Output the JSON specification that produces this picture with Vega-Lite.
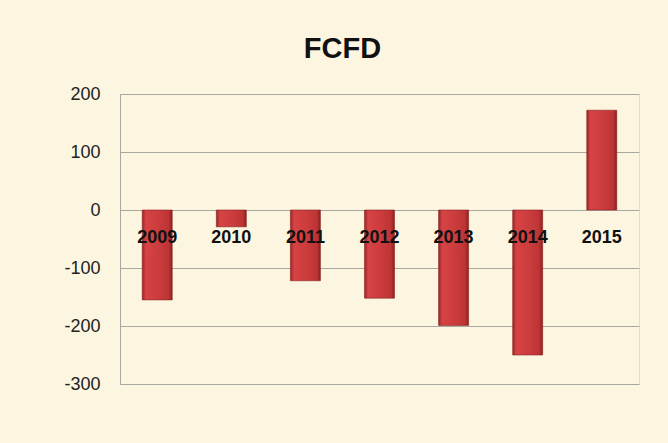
{
  "$schema": "https://vega.github.io/schema/vega-lite/v6.json",
  "autosize": "none",
  "width": 519,
  "height": 290,
  "padding": {"left": 120, "top": 94, "right": 29, "bottom": 59},
  "background": "#fcf6e1",
  "title": {
    "text": "FCFD",
    "font": "Liberation Sans",
    "fontSize": 29,
    "fontWeight": "bold",
    "color": "#111111",
    "anchor": "middle",
    "dx": -37,
    "baseline": "alphabetic",
    "offset": -2
  },
  "data": {
    "values": [
      {"year": "2009", "value": -155},
      {"year": "2010", "value": -29},
      {"year": "2011", "value": -122},
      {"year": "2012", "value": -152},
      {"year": "2013", "value": -199},
      {"year": "2014", "value": -250},
      {"year": "2015", "value": 172}
    ]
  },
  "encoding": {
    "x": {
      "field": "year",
      "type": "nominal",
      "sort": null,
      "scale": {"paddingInner": 0.595, "paddingOuter": 0.3},
      "axis": null
    }
  },
  "layer": [
    {
      "mark": {
        "type": "bar",
        "stroke": "#8a2222",
        "strokeWidth": 0.6,
        "fill": {
          "x1": 0, "y1": 0, "x2": 1, "y2": 0,
          "gradient": "linear",
          "stops": [
            {"offset": 0, "color": "#9a2526"},
            {"offset": 0.12, "color": "#d64344"},
            {"offset": 0.5, "color": "#cd3d3e"},
            {"offset": 0.88, "color": "#bd3435"},
            {"offset": 1, "color": "#8c2021"}
          ]
        }
      },
      "encoding": {
        "y": {
          "field": "value",
          "type": "quantitative",
          "scale": {"domain": [-300, 200], "nice": false},
          "axis": {
            "title": null,
            "values": [-300, -200, -100, 0, 100, 200],
            "labelExpr": "'' + datum.value",
            "grid": true,
            "gridColor": "#a8a8a0",
            "gridWidth": 1,
            "domain": true,
            "domainColor": "#a8a8a0",
            "ticks": false,
            "labelPadding": 20,
            "labelFont": "Liberation Sans",
            "labelFontSize": 18,
            "labelColor": "#222222"
          }
        },
        "y2": {"datum": 0}
      }
    },
    {
      "mark": {
        "type": "text",
        "font": "Liberation Sans",
        "fontSize": 18,
        "fontWeight": "bold",
        "color": "#111111",
        "baseline": "alphabetic",
        "align": "center",
        "dy": 33
      },
      "encoding": {
        "y": {"datum": 0, "type": "quantitative"},
        "text": {"field": "year"}
      }
    }
  ]
}
